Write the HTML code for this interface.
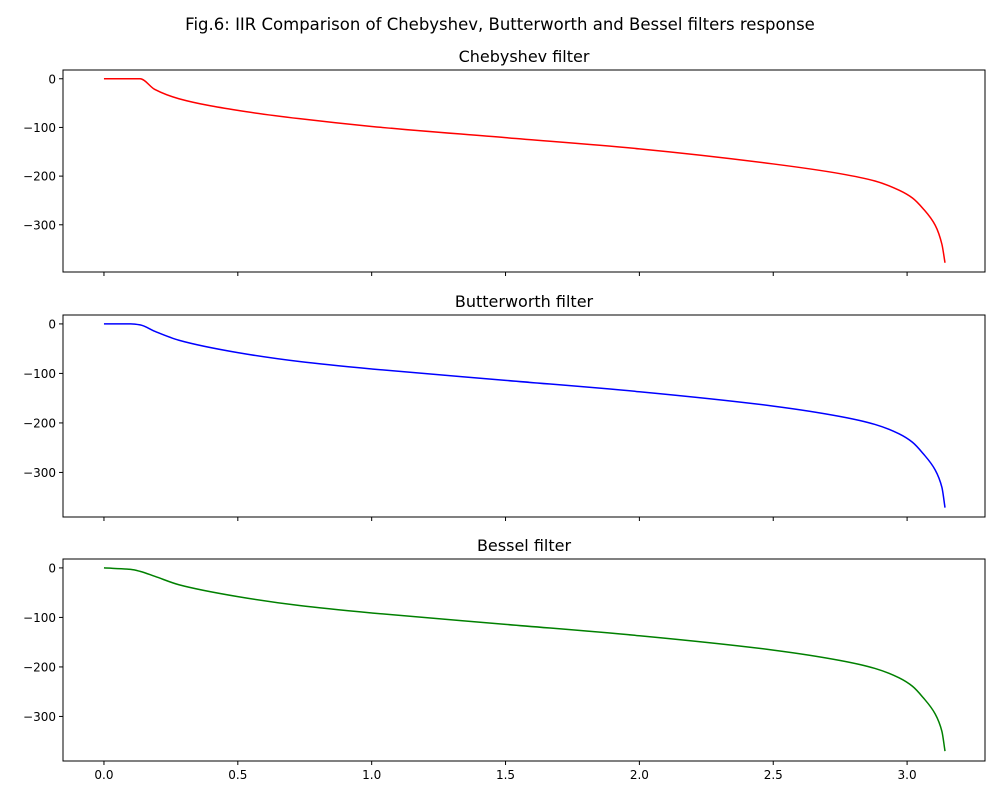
<!DOCTYPE html>
<html><head><meta charset="utf-8"><style>
body{margin:0;background:#fff;font-family:"Liberation Sans","DejaVu Sans",sans-serif}
</style></head><body>
<svg id="fig" width="1000" height="800" xmlns="http://www.w3.org/2000/svg" font-family="DejaVu Sans, Liberation Sans, sans-serif">
<rect width="1000" height="800" fill="#fff"/>
<text x="500" y="30" text-anchor="middle" font-size="16.5">Fig.6: IIR Comparison of Chebyshev, Butterworth and Bessel filters response</text>
</svg>
<script>
const xVals = [0, 0.1, 0.135, 0.19, 0.28, 0.5, 0.73, 1.0, 1.5, 2.0, 2.5, 2.75, 2.88, 2.97, 3.02, 3.06, 3.105, 3.13, 3.1416];
const chebyshevVals = [0, 0, 0, -22, -41, -65, -82, -98, -121, -144, -175, -195, -210, -229, -245, -267, -301, -340, -378];
const butterworthVals = [0, 0, -2, -15, -33, -58, -76, -91, -114, -137, -166, -187, -203, -222, -239, -262, -295, -330, -371];
const besselVals = [0, -3, -7, -17, -34, -58, -76, -91, -114, -137, -166, -187, -203, -222, -239, -262, -295, -330, -370];
const xTicks = [0.0, 0.5, 1.0, 1.5, 2.0, 2.5, 3.0];
const yTicks = [0, -100, -200, -300];
const titles = ["Chebyshev filter", "Butterworth filter", "Bessel filter"];
const colors = ["#ff0000", "#0000ff", "#008000"];
const series = [chebyshevVals, butterworthVals, besselVals];
const mins = [-397, -390, -390];
const tops = [70, 315, 559];

const svg = document.getElementById('fig');
const NS = 'http://www.w3.org/2000/svg';
const L = 63, R = 985, H = 202;
const xmin = -0.153, xmax = 3.291;
const sx = v => L + (v - xmin) / (xmax - xmin) * (R - L);
function mk(tag, attrs, parent) {
  const e = document.createElementNS(NS, tag);
  for (const k in attrs) e.setAttribute(k, attrs[k]);
  (parent || svg).appendChild(e);
  return e;
}
function monotonePath(pts) {
  const n = pts.length, dx = [], m = [], t = [];
  for (let i = 0; i < n - 1; i++) { dx[i] = pts[i+1][0] - pts[i][0]; m[i] = (pts[i+1][1] - pts[i][1]) / dx[i]; }
  t[0] = m[0]; t[n-1] = m[n-2];
  for (let i = 1; i < n - 1; i++) {
    if (m[i-1] * m[i] <= 0) t[i] = 0;
    else t[i] = 3 * (dx[i-1] + dx[i]) / ((2*dx[i] + dx[i-1]) / m[i-1] + (dx[i] + 2*dx[i-1]) / m[i]);
  }
  let d = 'M' + pts[0][0] + ',' + pts[0][1];
  for (let i = 0; i < n - 1; i++) {
    const h = dx[i] / 3;
    d += ' C' + (pts[i][0] + h) + ',' + (pts[i][1] + t[i] * h) + ' ' + (pts[i+1][0] - h) + ',' + (pts[i+1][1] - t[i+1] * h) + ' ' + pts[i+1][0] + ',' + pts[i+1][1];
  }
  return d;
}
for (let p = 0; p < 3; p++) {
  const top = tops[p], ymax = 18, ymin = mins[p];
  const sy = v => top + (ymax - v) / (ymax - ymin) * H;
  const g = mk('g', {});
  
  
  const t = mk('text', {x: (L + R) / 2, y: top - 8, 'text-anchor': 'middle', 'font-size': 16}, g);
  t.textContent = titles[p];
  
  
  const pts = xVals.map((x, i) => [sx(x), sy(series[p][i])]);
  const line = mk('path', {d: monotonePath(pts), fill: 'none', stroke: colors[p], 'stroke-width': 1.5}, g);
  
  
  const fr = mk('rect', {x: L, y: top, width: R - L, height: H, fill: 'none', stroke: '#000', 'stroke-width': 1}, g);
  
  
  yTicks.forEach(v => {
    const y = sy(v);
    mk('line', {x1: L - 4, x2: L, y1: y, y2: y, stroke: '#000'}, g);
    const tl = mk('text', {x: L - 7, y: y + 4.5, 'text-anchor': 'end', 'font-size': 12}, g);
    tl.textContent = v === 0 ? '0' : '\u2212' + Math.abs(v);
    
    
  });
  xTicks.forEach(v => {
    const x = sx(v);
    mk('line', {x1: x, x2: x, y1: top + H, y2: top + H + 4, stroke: '#000'}, g);
    if (p === 2) {
      const tl = mk('text', {x: x, y: top + H + 18, 'text-anchor': 'middle', 'font-size': 12}, g);
      tl.textContent = v.toFixed(1);
      
      
    }
  });
}
</script>
</body></html>
